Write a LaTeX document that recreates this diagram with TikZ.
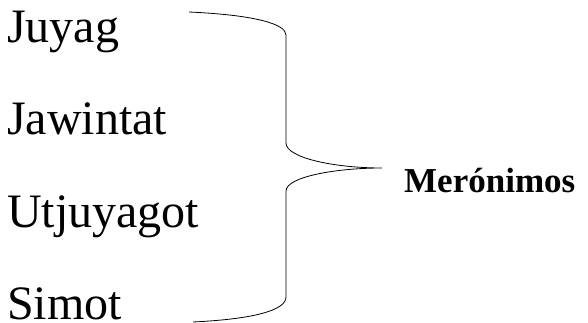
\documentclass[tikz,border=0pt]{standalone}
\usepackage{fontspec}
\setmainfont{Liberation Serif}
\usetikzlibrary{positioning}

\begin{document}
\begin{tikzpicture}[x=1pt,y=-1pt]
\tikzstyle{word}=[anchor=base west, inner sep=0pt, font=\fontsize{48}{48}\selectfont]
\tikzstyle{label}=[anchor=base west, inner sep=0pt, font=\fontsize{35}{35}\selectfont\bfseries]
\tikzstyle{brace}=[draw=black, line width=0.8pt]
\useasboundingbox (0,0) rectangle (588,323);

\node[word] (juyag) at (7,43) {Juyag};
\node[word] (jawintat) at (7,135) {Jawintat};
\node[word] (utjuyagot) at (7,227) {Utjuyagot};
\node[word] (simot) at (7,319) {Simot};

% brace
\coordinate (top) at (189,12);
\coordinate (bottom) at (193,322);
\coordinate (tip) at (382,168);
\draw[brace] (top) .. controls (255,15) and (286,24) .. (286,35) -- (286,143)
  .. controls (286,158) and (335,168) .. (tip)
  .. controls (335,168) and (286,177) .. (286,191) -- (286,297)
  .. controls (286,310) and (255,319) .. (bottom);

\node[label] (meronimos) at (404,192) {Merónimos};
\end{tikzpicture}
\end{document}
